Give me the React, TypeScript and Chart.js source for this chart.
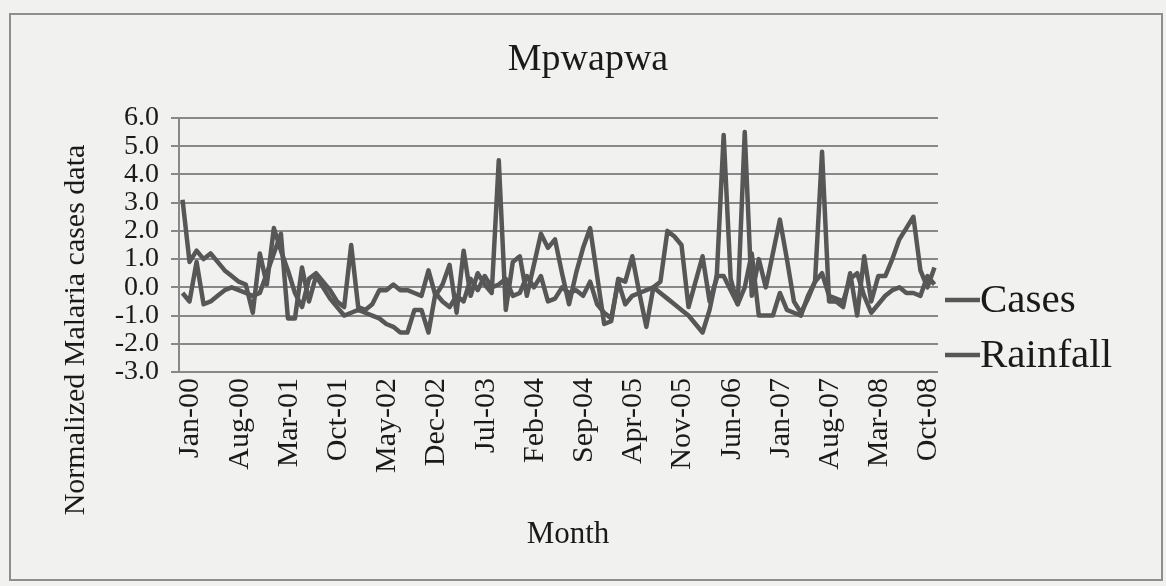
import React, { useEffect, useRef } from 'react';
import { Chart, registerables } from 'chart.js';

Chart.register(...registerables);

const MONTH_NAMES = ['Jan', 'Feb', 'Mar', 'Apr', 'May', 'Jun', 'Jul', 'Aug', 'Sep', 'Oct', 'Nov', 'Dec'];
const YEARS = ['00', '01', '02', '03', '04', '05', '06', '07', '08'];
const CATEGORIES = YEARS.flatMap((y) => MONTH_NAMES.map((m) => `${m}-${y}`));

const TICK_LABELS = [
  'Jan-00', 'Aug-00', 'Mar-01', 'Oct-01', 'May-02', 'Dec-02', 'Jul-03', 'Feb-04',
  'Sep-04', 'Apr-05', 'Nov-05', 'Jun-06', 'Jan-07', 'Aug-07', 'Mar-08', 'Oct-08',
];

const CASES = [
  3.1, 0.9, 1.3, 1.0, 1.2, 0.9, 0.6, 0.4, 0.2, 0.1,
  -0.9, 1.2, 0.1, 2.1, 1.3, 0.6, -0.2, -0.7, 0.3, 0.5,
  0.2, -0.1, -0.5, -0.7, 1.5, -0.7, -0.8, -0.6, -0.1, -0.1,
  0.1, -0.1, -0.1, -0.2, -0.3, 0.6, -0.3, 0.1, 0.8, -0.9,
  1.3, -0.3, 0.5, 0.1, -0.2, 4.5, -0.8, 0.9, 1.1, -0.3,
  0.8, 1.9, 1.4, 1.7, 0.5, -0.6, 0.5, 1.4, 2.1, 0.4,
  -1.3, -1.2, 0.3, 0.2, 1.1, -0.2, -1.4, 0.0, 0.2, 2.0,
  1.8, 1.5, -0.7, 0.2, 1.1, -0.5, 0.3, 5.4, 0.3, -0.6,
  5.5, -0.3, 1.0, 0.0, 1.2, 2.4, 1.0, -0.5, -0.9, -0.4,
  0.2, 4.8, -0.5, -0.5, -0.7, 0.5, -1.0, 1.1, -0.5, 0.4,
  0.4, 1.0, 1.7, 2.1, 2.5, 0.6, 0.0, 0.7,
];

const RAINFALL = [
  -0.2, -0.5, 0.9, -0.6, -0.5, -0.3, -0.1, 0.0, -0.1, -0.2,
  -0.3, -0.2, 0.5, 1.2, 1.9, -1.1, -1.1, 0.7, -0.5, 0.4,
  0.0, -0.4, -0.7, -1.0, -0.9, -0.8, -0.9, -1.0, -1.1, -1.3,
  -1.4, -1.6, -1.6, -0.8, -0.8, -1.6, -0.2, -0.5, -0.7, -0.3,
  -0.5, 0.3, -0.1, 0.4, 0.0, 0.1, 0.3, -0.3, -0.2, 0.4,
  0.0, 0.4, -0.5, -0.4, 0.0, -0.2, -0.1, -0.3, 0.2, -0.6,
  -0.9, -1.1, 0.2, -0.6, -0.3, -0.2, -0.1, 0.0, -0.2, -0.4,
  -0.6, -0.8, -1.0, -1.3, -1.6, -0.8, 0.4, 0.4, -0.1, -0.6,
  0.0, 1.2, -1.0, -1.0, -1.0, -0.2, -0.8, -0.9, -1.0, -0.3,
  0.2, 0.5, -0.3, -0.4, -0.5, 0.3, 0.5, -0.3, -0.9, -0.6,
  -0.3, -0.1, 0.0, -0.2, -0.2, -0.3, 0.4, 0.1,
];

const SERIES_NAMES = ['Cases', 'Rainfall'];
const TITLE = 'Mpwapwa';
const Y_TITLE = 'Normalized Malaria cases data';
const X_TITLE = 'Month';

const FONT = '"Liberation Serif", "DejaVu Serif", serif';
const TEXT_COLOR = '#1a1a1a';
const LINE_COLOR = '#575757';
const GRID_COLOR = '#888888';

const textPlugin = {
  id: 'textPlugin',
  afterDraw(chart: any) {
    const ctx = chart.ctx as CanvasRenderingContext2D;
    const area = chart.chartArea;
    ctx.save();
    ctx.fillStyle = TEXT_COLOR;
    ctx.font = `38px ${FONT}`;
    ctx.textAlign = 'center';
    ctx.textBaseline = 'middle';
    ctx.fillText(TITLE, 588, 60);
    ctx.font = `31px ${FONT}`;
    ctx.fillText(X_TITLE, 568, 535);
    ctx.save();
    ctx.translate(76, 330);
    ctx.rotate(-Math.PI / 2);
    ctx.font = `30px ${FONT}`;
    ctx.fillText(Y_TITLE, 0, 0);
    ctx.restore();
    const legendY = [300, 355];
    SERIES_NAMES.forEach((name, i) => {
      ctx.strokeStyle = LINE_COLOR;
      ctx.lineWidth = 4.5;
      ctx.beginPath();
      ctx.moveTo(area.right + 7, legendY[i]);
      ctx.lineTo(area.right + 42, legendY[i]);
      ctx.stroke();
      ctx.font = `41px ${FONT}`;
      ctx.textAlign = 'left';
      ctx.fillText(name, area.right + 42, legendY[i] + 1);
    });
    ctx.restore();
  },
};

export default function App() {
  const canvasRef = useRef<HTMLCanvasElement | null>(null);

  useEffect(() => {
    if (!canvasRef.current) return;
    const chart = new Chart(canvasRef.current, {
      type: 'line',
      data: {
        labels: CATEGORIES,
        datasets: [
          {
            label: SERIES_NAMES[0],
            data: CASES,
            borderColor: LINE_COLOR,
            borderWidth: 4.5,
            pointRadius: 0,
            tension: 0,
            borderJoinStyle: 'round',
            fill: false,
          },
          {
            label: SERIES_NAMES[1],
            data: RAINFALL,
            borderColor: LINE_COLOR,
            borderWidth: 4.5,
            pointRadius: 0,
            tension: 0,
            borderJoinStyle: 'round',
            fill: false,
          },
        ],
      },
      options: {
        animation: false,
        responsive: false,
        maintainAspectRatio: false,
        layout: { padding: { left: 0, top: 118, right: 1166 - 938, bottom: 0 } },
        plugins: {
          legend: { display: false },
          title: { display: false },
          tooltip: { enabled: false },
        },
        scales: {
          x: {
            type: 'category',
            offset: true,
            grid: { display: false, drawTicks: false },
            border: { display: false },
            ticks: {
              autoSkip: false,
              maxRotation: 90,
              minRotation: 90,
              padding: 6,
              labelOffset: 8,
              color: TEXT_COLOR,
              font: { family: FONT, size: 30 },
              callback: (_v: any, index: number) => {
                const lab = CATEGORIES[index];
                return TICK_LABELS.includes(lab) ? lab : '';
              },
            },
            afterFit: (scale: any) => {
              scale.height = 586 - 372;
            },
          },
          y: {
            min: -3,
            max: 6,
            grid: { color: GRID_COLOR, lineWidth: 2, tickLength: 8, drawTicks: true },
            border: { display: true, color: GRID_COLOR, width: 2 },
            ticks: {
              stepSize: 1,
              autoSkip: false,
              padding: 12,
              color: TEXT_COLOR,
              font: { family: FONT, size: 28, lineHeight: 1 },
              callback: (v: any) => Number(v).toFixed(1),
            },
            afterFit: (scale: any) => {
              scale.width = 179;
            },
          },
        },
      },
      plugins: [textPlugin],
    });
    return () => chart.destroy();
  }, []);

  return (
    <div
      style={{
        position: 'fixed',
        left: 0,
        top: 0,
        width: 1166,
        height: 586,
        background: '#f1f1ef',
        overflow: 'hidden',
      }}
    >
      <div
        style={{
          position: 'absolute',
          left: 9,
          top: 13,
          width: 1150,
          height: 564,
          border: '2px solid #8e8e8e',
        }}
      />
      <canvas ref={canvasRef} width={1166} height={586} style={{ position: 'absolute', left: 0, top: 0 }} />
    </div>
  );
}
